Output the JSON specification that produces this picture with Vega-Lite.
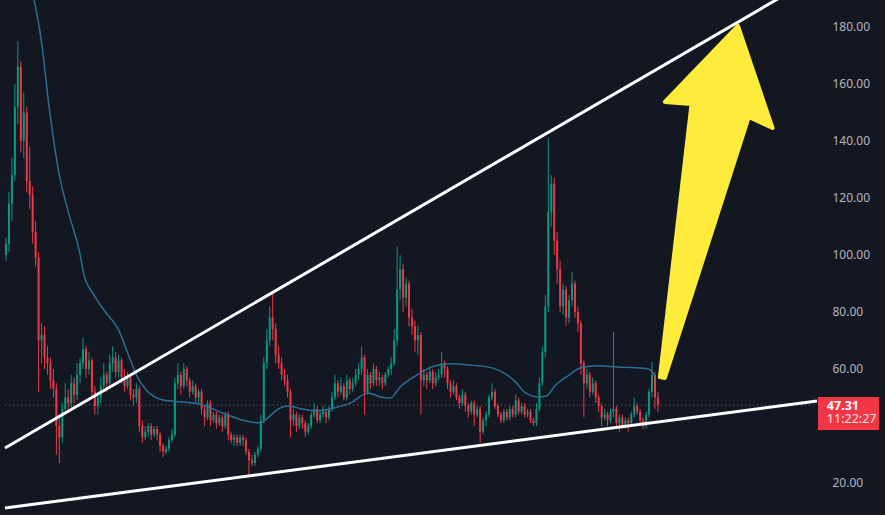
{
  "$schema": "https://vega.github.io/schema/vega-lite/v6.json",
  "width": 820,
  "height": 515,
  "autosize": {"type": "none"},
  "padding": {"left": 0, "top": 0, "bottom": 0, "right": 65},
  "background": "#131722",
  "config": {"view": {"stroke": null}, "font": "Noto Sans"},
  "datasets": {
    "candles": [
      {"t":1,"o":100,"h":106,"l":98,"c":104},{"t":4,"o":104,"h":122,"l":101,"c":118},{"t":7,"o":118,"h":134,"l":112,"c":128},{"t":10,"o":128,"h":160,"l":126,"c":152},{"t":13,"o":152,"h":175,"l":146,"c":166},{"t":16,"o":166,"h":168,"l":136,"c":140},{"t":19,"o":140,"h":157,"l":134,"c":150},{"t":22,"o":150,"h":152,"l":122,"c":126},{"t":25,"o":126,"h":138,"l":116,"c":121},{"t":28,"o":121,"h":124,"l":104,"c":108},{"t":31,"o":108,"h":112,"l":96,"c":99},{"t":34,"o":99,"h":101,"l":52,"c":70},{"t":37,"o":70,"h":76,"l":62,"c":72},{"t":40,"o":72,"h":75,"l":60,"c":64},{"t":43,"o":64,"h":68,"l":58,"c":62},{"t":46,"o":62,"h":64,"l":53,"c":56},{"t":49,"o":56,"h":60,"l":50,"c":53},{"t":52,"o":53,"h":55,"l":30,"c":40},{"t":55,"o":40,"h":44,"l":27,"c":36},{"t":58,"o":36,"h":48,"l":34,"c":46},
      {"t":61,"o":46,"h":55,"l":44,"c":50},{"t":64,"o":50,"h":53,"l":45,"c":48},{"t":67,"o":48,"h":58,"l":46,"c":55},{"t":70,"o":55,"h":57,"l":48,"c":51},{"t":73,"o":51,"h":62,"l":49,"c":58},{"t":76,"o":58,"h":64,"l":55,"c":62},{"t":79,"o":62,"h":71,"l":60,"c":67},{"t":82,"o":67,"h":68,"l":57,"c":60},{"t":85,"o":60,"h":66,"l":58,"c":63},{"t":88,"o":63,"h":64,"l":50,"c":52},{"t":91,"o":52,"h":54,"l":44,"c":47},{"t":94,"o":47,"h":52,"l":44,"c":50},{"t":97,"o":50,"h":57,"l":48,"c":54},{"t":100,"o":54,"h":62,"l":52,"c":58},{"t":103,"o":58,"h":59,"l":52,"c":55},{"t":106,"o":55,"h":65,"l":54,"c":62},{"t":109,"o":62,"h":68,"l":59,"c":64},{"t":112,"o":64,"h":66,"l":57,"c":59},{"t":115,"o":59,"h":65,"l":57,"c":63},{"t":118,"o":63,"h":64,"l":55,"c":57},
      {"t":121,"o":57,"h":60,"l":52,"c":54},{"t":124,"o":54,"h":59,"l":53,"c":57},{"t":127,"o":57,"h":58,"l":49,"c":51},{"t":130,"o":51,"h":53,"l":47,"c":50},{"t":133,"o":50,"h":55,"l":48,"c":53},{"t":136,"o":53,"h":54,"l":38,"c":40},{"t":139,"o":40,"h":42,"l":34,"c":36},{"t":142,"o":36,"h":40,"l":35,"c":38},{"t":145,"o":38,"h":41,"l":36,"c":40},{"t":148,"o":40,"h":41,"l":35,"c":37},{"t":151,"o":37,"h":40,"l":36,"c":39},{"t":154,"o":39,"h":40,"l":35,"c":37},{"t":157,"o":37,"h":38,"l":31,"c":33},{"t":160,"o":33,"h":34,"l":29,"c":31},{"t":163,"o":31,"h":33,"l":30,"c":32},{"t":166,"o":32,"h":36,"l":31,"c":35},{"t":169,"o":35,"h":39,"l":34,"c":37},{"t":172,"o":37,"h":57,"l":36,"c":55},{"t":175,"o":55,"h":62,"l":53,"c":58},{"t":178,"o":58,"h":59,"l":51,"c":54},
      {"t":181,"o":54,"h":62,"l":53,"c":60},{"t":184,"o":60,"h":61,"l":54,"c":56},{"t":187,"o":56,"h":57,"l":50,"c":52},{"t":190,"o":52,"h":56,"l":51,"c":54},{"t":193,"o":54,"h":55,"l":48,"c":50},{"t":196,"o":50,"h":53,"l":48,"c":52},{"t":199,"o":52,"h":53,"l":44,"c":46},{"t":202,"o":46,"h":47,"l":40,"c":43},{"t":205,"o":43,"h":49,"l":42,"c":48},{"t":208,"o":48,"h":49,"l":40,"c":42},{"t":211,"o":42,"h":45,"l":41,"c":44},{"t":214,"o":44,"h":45,"l":39,"c":41},{"t":217,"o":41,"h":44,"l":40,"c":43},{"t":220,"o":43,"h":44,"l":38,"c":40},{"t":223,"o":40,"h":45,"l":39,"c":44},{"t":226,"o":44,"h":45,"l":35,"c":37},{"t":229,"o":37,"h":38,"l":34,"c":35},{"t":232,"o":35,"h":37,"l":33,"c":36},{"t":235,"o":36,"h":37,"l":33,"c":34},{"t":238,"o":34,"h":37,"l":33,"c":36},
      {"t":241,"o":36,"h":37,"l":33,"c":35},{"t":244,"o":35,"h":36,"l":30,"c":31},{"t":247,"o":31,"h":32,"l":23,"c":28},{"t":250,"o":28,"h":30,"l":26,"c":27},{"t":253,"o":27,"h":31,"l":26,"c":30},{"t":256,"o":30,"h":33,"l":29,"c":32},{"t":259,"o":32,"h":44,"l":31,"c":42},{"t":262,"o":42,"h":64,"l":41,"c":62},{"t":265,"o":62,"h":74,"l":60,"c":70},{"t":268,"o":70,"h":82,"l":68,"c":78},{"t":271,"o":78,"h":87,"l":70,"c":74},{"t":274,"o":74,"h":76,"l":62,"c":65},{"t":277,"o":65,"h":68,"l":60,"c":62},{"t":280,"o":62,"h":64,"l":56,"c":58},{"t":283,"o":58,"h":60,"l":54,"c":56},{"t":286,"o":56,"h":58,"l":50,"c":52},{"t":289,"o":52,"h":53,"l":36,"c":42},{"t":292,"o":42,"h":46,"l":40,"c":44},{"t":295,"o":44,"h":45,"l":38,"c":40},{"t":298,"o":40,"h":44,"l":39,"c":43},
      {"t":301,"o":43,"h":44,"l":39,"c":41},{"t":304,"o":41,"h":42,"l":36,"c":38},{"t":307,"o":38,"h":41,"l":37,"c":40},{"t":310,"o":40,"h":45,"l":39,"c":44},{"t":313,"o":44,"h":48,"l":43,"c":46},{"t":316,"o":46,"h":47,"l":41,"c":42},{"t":319,"o":42,"h":45,"l":41,"c":44},{"t":322,"o":44,"h":47,"l":43,"c":45},{"t":325,"o":45,"h":46,"l":41,"c":43},{"t":328,"o":43,"h":47,"l":42,"c":46},{"t":331,"o":46,"h":52,"l":45,"c":50},{"t":334,"o":50,"h":58,"l":49,"c":55},{"t":337,"o":55,"h":56,"l":50,"c":52},{"t":340,"o":52,"h":57,"l":51,"c":54},{"t":343,"o":54,"h":55,"l":49,"c":50},{"t":346,"o":50,"h":58,"l":49,"c":56},{"t":349,"o":56,"h":57,"l":51,"c":53},{"t":352,"o":53,"h":57,"l":52,"c":55},{"t":355,"o":55,"h":60,"l":54,"c":58},{"t":358,"o":58,"h":62,"l":56,"c":60},
      {"t":361,"o":60,"h":68,"l":58,"c":64},{"t":364,"o":64,"h":65,"l":44,"c":52},{"t":367,"o":52,"h":60,"l":51,"c":58},{"t":370,"o":58,"h":59,"l":53,"c":55},{"t":373,"o":55,"h":62,"l":54,"c":60},{"t":376,"o":60,"h":61,"l":54,"c":56},{"t":379,"o":56,"h":59,"l":54,"c":57},{"t":382,"o":57,"h":58,"l":53,"c":55},{"t":385,"o":55,"h":59,"l":54,"c":58},{"t":388,"o":58,"h":61,"l":57,"c":60},{"t":391,"o":60,"h":64,"l":58,"c":62},{"t":394,"o":62,"h":74,"l":61,"c":70},{"t":397,"o":70,"h":103,"l":68,"c":88},{"t":400,"o":88,"h":100,"l":84,"c":95},{"t":403,"o":95,"h":97,"l":80,"c":85},{"t":406,"o":85,"h":92,"l":82,"c":90},{"t":409,"o":90,"h":91,"l":75,"c":78},{"t":412,"o":78,"h":81,"l":72,"c":75},{"t":415,"o":75,"h":77,"l":66,"c":70},{"t":418,"o":70,"h":75,"l":65,"c":72},
      {"t":421,"o":72,"h":73,"l":44,"c":56},{"t":424,"o":56,"h":60,"l":54,"c":58},{"t":427,"o":58,"h":59,"l":53,"c":56},{"t":430,"o":56,"h":61,"l":55,"c":59},{"t":433,"o":59,"h":60,"l":53,"c":55},{"t":436,"o":55,"h":59,"l":54,"c":57},{"t":439,"o":57,"h":60,"l":56,"c":58},{"t":442,"o":58,"h":66,"l":57,"c":62},{"t":445,"o":62,"h":63,"l":57,"c":60},{"t":448,"o":60,"h":61,"l":53,"c":55},{"t":451,"o":55,"h":56,"l":50,"c":52},{"t":454,"o":52,"h":56,"l":51,"c":54},{"t":457,"o":54,"h":55,"l":49,"c":50},{"t":460,"o":50,"h":51,"l":46,"c":48},{"t":463,"o":48,"h":53,"l":47,"c":51},{"t":466,"o":51,"h":52,"l":45,"c":47},{"t":469,"o":47,"h":48,"l":43,"c":45},{"t":472,"o":45,"h":49,"l":44,"c":48},{"t":475,"o":48,"h":49,"l":40,"c":44},{"t":478,"o":44,"h":47,"l":43,"c":46},
      {"t":481,"o":46,"h":47,"l":34,"c":38},{"t":484,"o":38,"h":43,"l":37,"c":42},{"t":487,"o":42,"h":45,"l":40,"c":44},{"t":490,"o":44,"h":51,"l":43,"c":50},{"t":493,"o":50,"h":55,"l":49,"c":52},{"t":496,"o":52,"h":53,"l":46,"c":47},{"t":499,"o":47,"h":48,"l":43,"c":44},{"t":502,"o":44,"h":45,"l":41,"c":42},{"t":505,"o":42,"h":46,"l":41,"c":45},{"t":508,"o":45,"h":46,"l":42,"c":43},{"t":511,"o":43,"h":47,"l":42,"c":46},{"t":514,"o":46,"h":47,"l":43,"c":44},{"t":517,"o":44,"h":51,"l":43,"c":49},{"t":520,"o":49,"h":50,"l":44,"c":45},{"t":523,"o":45,"h":48,"l":44,"c":47},{"t":526,"o":47,"h":48,"l":43,"c":44},{"t":529,"o":44,"h":46,"l":43,"c":45},{"t":532,"o":45,"h":46,"l":41,"c":42},{"t":535,"o":42,"h":43,"l":40,"c":41},{"t":538,"o":41,"h":48,"l":40,"c":46},
      {"t":541,"o":46,"h":57,"l":45,"c":55},{"t":544,"o":55,"h":68,"l":54,"c":66},{"t":547,"o":66,"h":86,"l":64,"c":82},{"t":550,"o":82,"h":141,"l":80,"c":115},{"t":553,"o":115,"h":128,"l":110,"c":125},{"t":556,"o":125,"h":127,"l":100,"c":105},{"t":559,"o":105,"h":108,"l":90,"c":95},{"t":562,"o":95,"h":98,"l":80,"c":82},{"t":565,"o":82,"h":90,"l":79,"c":88},{"t":568,"o":88,"h":89,"l":75,"c":78},{"t":571,"o":78,"h":86,"l":76,"c":84},{"t":574,"o":84,"h":94,"l":82,"c":90},{"t":577,"o":90,"h":91,"l":78,"c":80},{"t":580,"o":80,"h":82,"l":73,"c":76},{"t":583,"o":76,"h":77,"l":58,"c":62},{"t":586,"o":62,"h":63,"l":43,"c":55},{"t":589,"o":55,"h":60,"l":53,"c":58},{"t":592,"o":58,"h":59,"l":50,"c":52},{"t":595,"o":52,"h":57,"l":51,"c":55},{"t":598,"o":55,"h":56,"l":48,"c":50},
      {"t":601,"o":50,"h":51,"l":45,"c":47},{"t":604,"o":47,"h":48,"l":40,"c":43},{"t":607,"o":43,"h":46,"l":42,"c":44},{"t":610,"o":44,"h":45,"l":40,"c":42},{"t":613,"o":42,"h":46,"l":41,"c":45},{"t":616,"o":45,"h":73,"l":43,"c":46},{"t":619,"o":46,"h":47,"l":39,"c":41},{"t":622,"o":41,"h":44,"l":38,"c":43},{"t":625,"o":43,"h":44,"l":39,"c":40},{"t":628,"o":40,"h":43,"l":39,"c":42},{"t":631,"o":42,"h":43,"l":38,"c":41},{"t":634,"o":41,"h":45,"l":40,"c":44},{"t":637,"o":44,"h":50,"l":43,"c":47},{"t":640,"o":47,"h":48,"l":44,"c":45},{"t":643,"o":45,"h":46,"l":41,"c":42},{"t":646,"o":42,"h":43,"l":39,"c":40},{"t":649,"o":40,"h":45,"l":39,"c":44},{"t":652,"o":44,"h":53,"l":43,"c":52},{"t":655,"o":52,"h":62.5,"l":50,"c":58},{"t":658,"o":58,"h":59,"l":46,"c":50},{"t":661,"o":50,"h":52,"l":45,"c":47.31}
    ],
    "ma": [
      {"t":28,"p":191.9},{"t":37,"p":174.7},{"t":45,"p":150.9},{"t":55,"p":128.1},{"t":65,"p":114.0},{"t":75,"p":101.8},{"t":80,"p":93.0},{"t":90,"p":86.0},{"t":100,"p":80.7},{"t":115,"p":73.7},{"t":125,"p":64.9},{"t":133,"p":57.9},{"t":143,"p":52.6},{"t":160,"p":49.1},{"t":180,"p":48.4},{"t":200,"p":47.4},{"t":220,"p":44.6},{"t":240,"p":42.1},{"t":258,"p":41.1},{"t":265,"p":42.5},{"t":275,"p":45.6},{"t":287,"p":47.0},{"t":300,"p":46.0},{"t":315,"p":45.3},{"t":333,"p":46.3},{"t":350,"p":48.1},{"t":367,"p":51.6},{"t":380,"p":50.2},{"t":390,"p":49.8},{"t":400,"p":53.7},{"t":417,"p":57.9},{"t":430,"p":60.4},{"t":450,"p":61.8},{"t":470,"p":61.4},{"t":493,"p":60.4},{"t":507,"p":58.2},{"t":517,"p":55.4},{"t":527,"p":51.6},{"t":540,"p":50.2},{"t":548,"p":50.5},{"t":557,"p":54.2},{"t":570,"p":57.6},{"t":583,"p":60.4},{"t":600,"p":61.1},{"t":620,"p":60.7},{"t":640,"p":60.4},{"t":652,"p":59.9},{"t":658,"p":57.5}
    ],
    "trend": [
      {"line":"upper","t":0,"p":32.28},{"line":"upper","t":785,"p":190.4},
      {"line":"lower","t":0,"p":11.23},{"line":"lower","t":822,"p":48.77}
    ],
    "arrow": [
      {"i":1,"t":663,"p":57.19},{"i":2,"t":695,"p":152.98},{"i":3,"t":668,"p":153.68},{"i":4,"t":742,"p":180.35},{"i":5,"t":777,"p":144.56},{"i":6,"t":753,"p":148.42},{"i":7,"t":668,"p":56.84}
    ],
    "price": [{"t0":0,"t1":820,"p":47.31}],
    "tag": [{"t0":823,"t1":885,"p0":38.6,"p1":50.18,"tx":832,"a":"47.31","b":"11:22:27","pa":47.0,"pb":42.46}]
  },
  "layer": [
    {
      "data": {"name": "price"},
      "mark": {"type": "rule", "color": "#F23645", "strokeDash": [1, 3], "strokeWidth": 1},
      "encoding": {
        "x": {"field": "t0", "type": "quantitative", "scale": {"domain": [0, 820], "nice": false, "zero": false}, "axis": null},
        "x2": {"field": "t1"},
        "y": {"field": "p", "type": "quantitative", "scale": {"domain": [8.77, 189.47], "nice": false, "zero": false},
          "axis": {"orient": "right", "values": [20, 40, 60, 80, 100, 120, 140, 160, 180], "format": ".2f", "domain": false, "ticks": false, "grid": false, "labelPadding": 12, "labelColor": "#B2B5BE", "labelFontSize": 12, "labelFont": "Noto Sans", "title": null}}
      }
    },
    {
      "data": {"name": "candles"},
      "mark": {"type": "rule", "strokeWidth": 1},
      "encoding": {
        "x": {"field": "t", "type": "quantitative"},
        "y": {"field": "l", "type": "quantitative"},
        "y2": {"field": "h"},
        "color": {"condition": {"test": "datum.c >= datum.o", "value": "#089981"}, "value": "#F23645"}
      }
    },
    {
      "data": {"name": "candles"},
      "mark": {"type": "bar", "width": 2},
      "encoding": {
        "x": {"field": "t", "type": "quantitative"},
        "y": {"field": "o", "type": "quantitative"},
        "y2": {"field": "c"},
        "color": {"condition": {"test": "datum.c >= datum.o", "value": "#089981"}, "value": "#F23645"}
      }
    },
    {
      "data": {"name": "ma"},
      "mark": {"type": "line", "color": "#2C6E93", "strokeWidth": 1.5, "interpolate": "monotone", "clip": true},
      "encoding": {
        "x": {"field": "t", "type": "quantitative"},
        "y": {"field": "p", "type": "quantitative"}
      }
    },
    {
      "data": {"name": "trend"},
      "mark": {"type": "line", "color": "#FFFFFF", "strokeWidth": 3, "clip": true},
      "encoding": {
        "x": {"field": "t", "type": "quantitative"},
        "y": {"field": "p", "type": "quantitative"},
        "detail": {"field": "line"}
      }
    },
    {
      "data": {"name": "arrow"},
      "mark": {"type": "line", "interpolate": "linear-closed", "fill": "#FFEB3B", "stroke": "#FFEB3B", "strokeWidth": 4, "strokeJoin": "round"},
      "encoding": {
        "x": {"field": "t", "type": "quantitative"},
        "y": {"field": "p", "type": "quantitative"},
        "order": {"field": "i"}
      }
    },
    {
      "data": {"name": "tag"},
      "mark": {"type": "rect", "color": "#F23645"},
      "encoding": {
        "x": {"field": "t0", "type": "quantitative"},
        "x2": {"field": "t1"},
        "y": {"field": "p0", "type": "quantitative"},
        "y2": {"field": "p1"}
      }
    },
    {
      "data": {"name": "tag"},
      "mark": {"type": "text", "align": "left", "baseline": "middle", "color": "#FFFFFF", "fontSize": 12.5, "fontWeight": "bold", "font": "Noto Sans"},
      "encoding": {
        "x": {"field": "tx", "type": "quantitative"},
        "y": {"field": "pa", "type": "quantitative"},
        "text": {"field": "a"}
      }
    },
    {
      "data": {"name": "tag"},
      "mark": {"type": "text", "align": "left", "baseline": "middle", "color": "#FCE3E5", "fontSize": 12.5, "font": "Noto Sans"},
      "encoding": {
        "x": {"field": "tx", "type": "quantitative"},
        "y": {"field": "pb", "type": "quantitative"},
        "text": {"field": "b"}
      }
    }
  ]
}
